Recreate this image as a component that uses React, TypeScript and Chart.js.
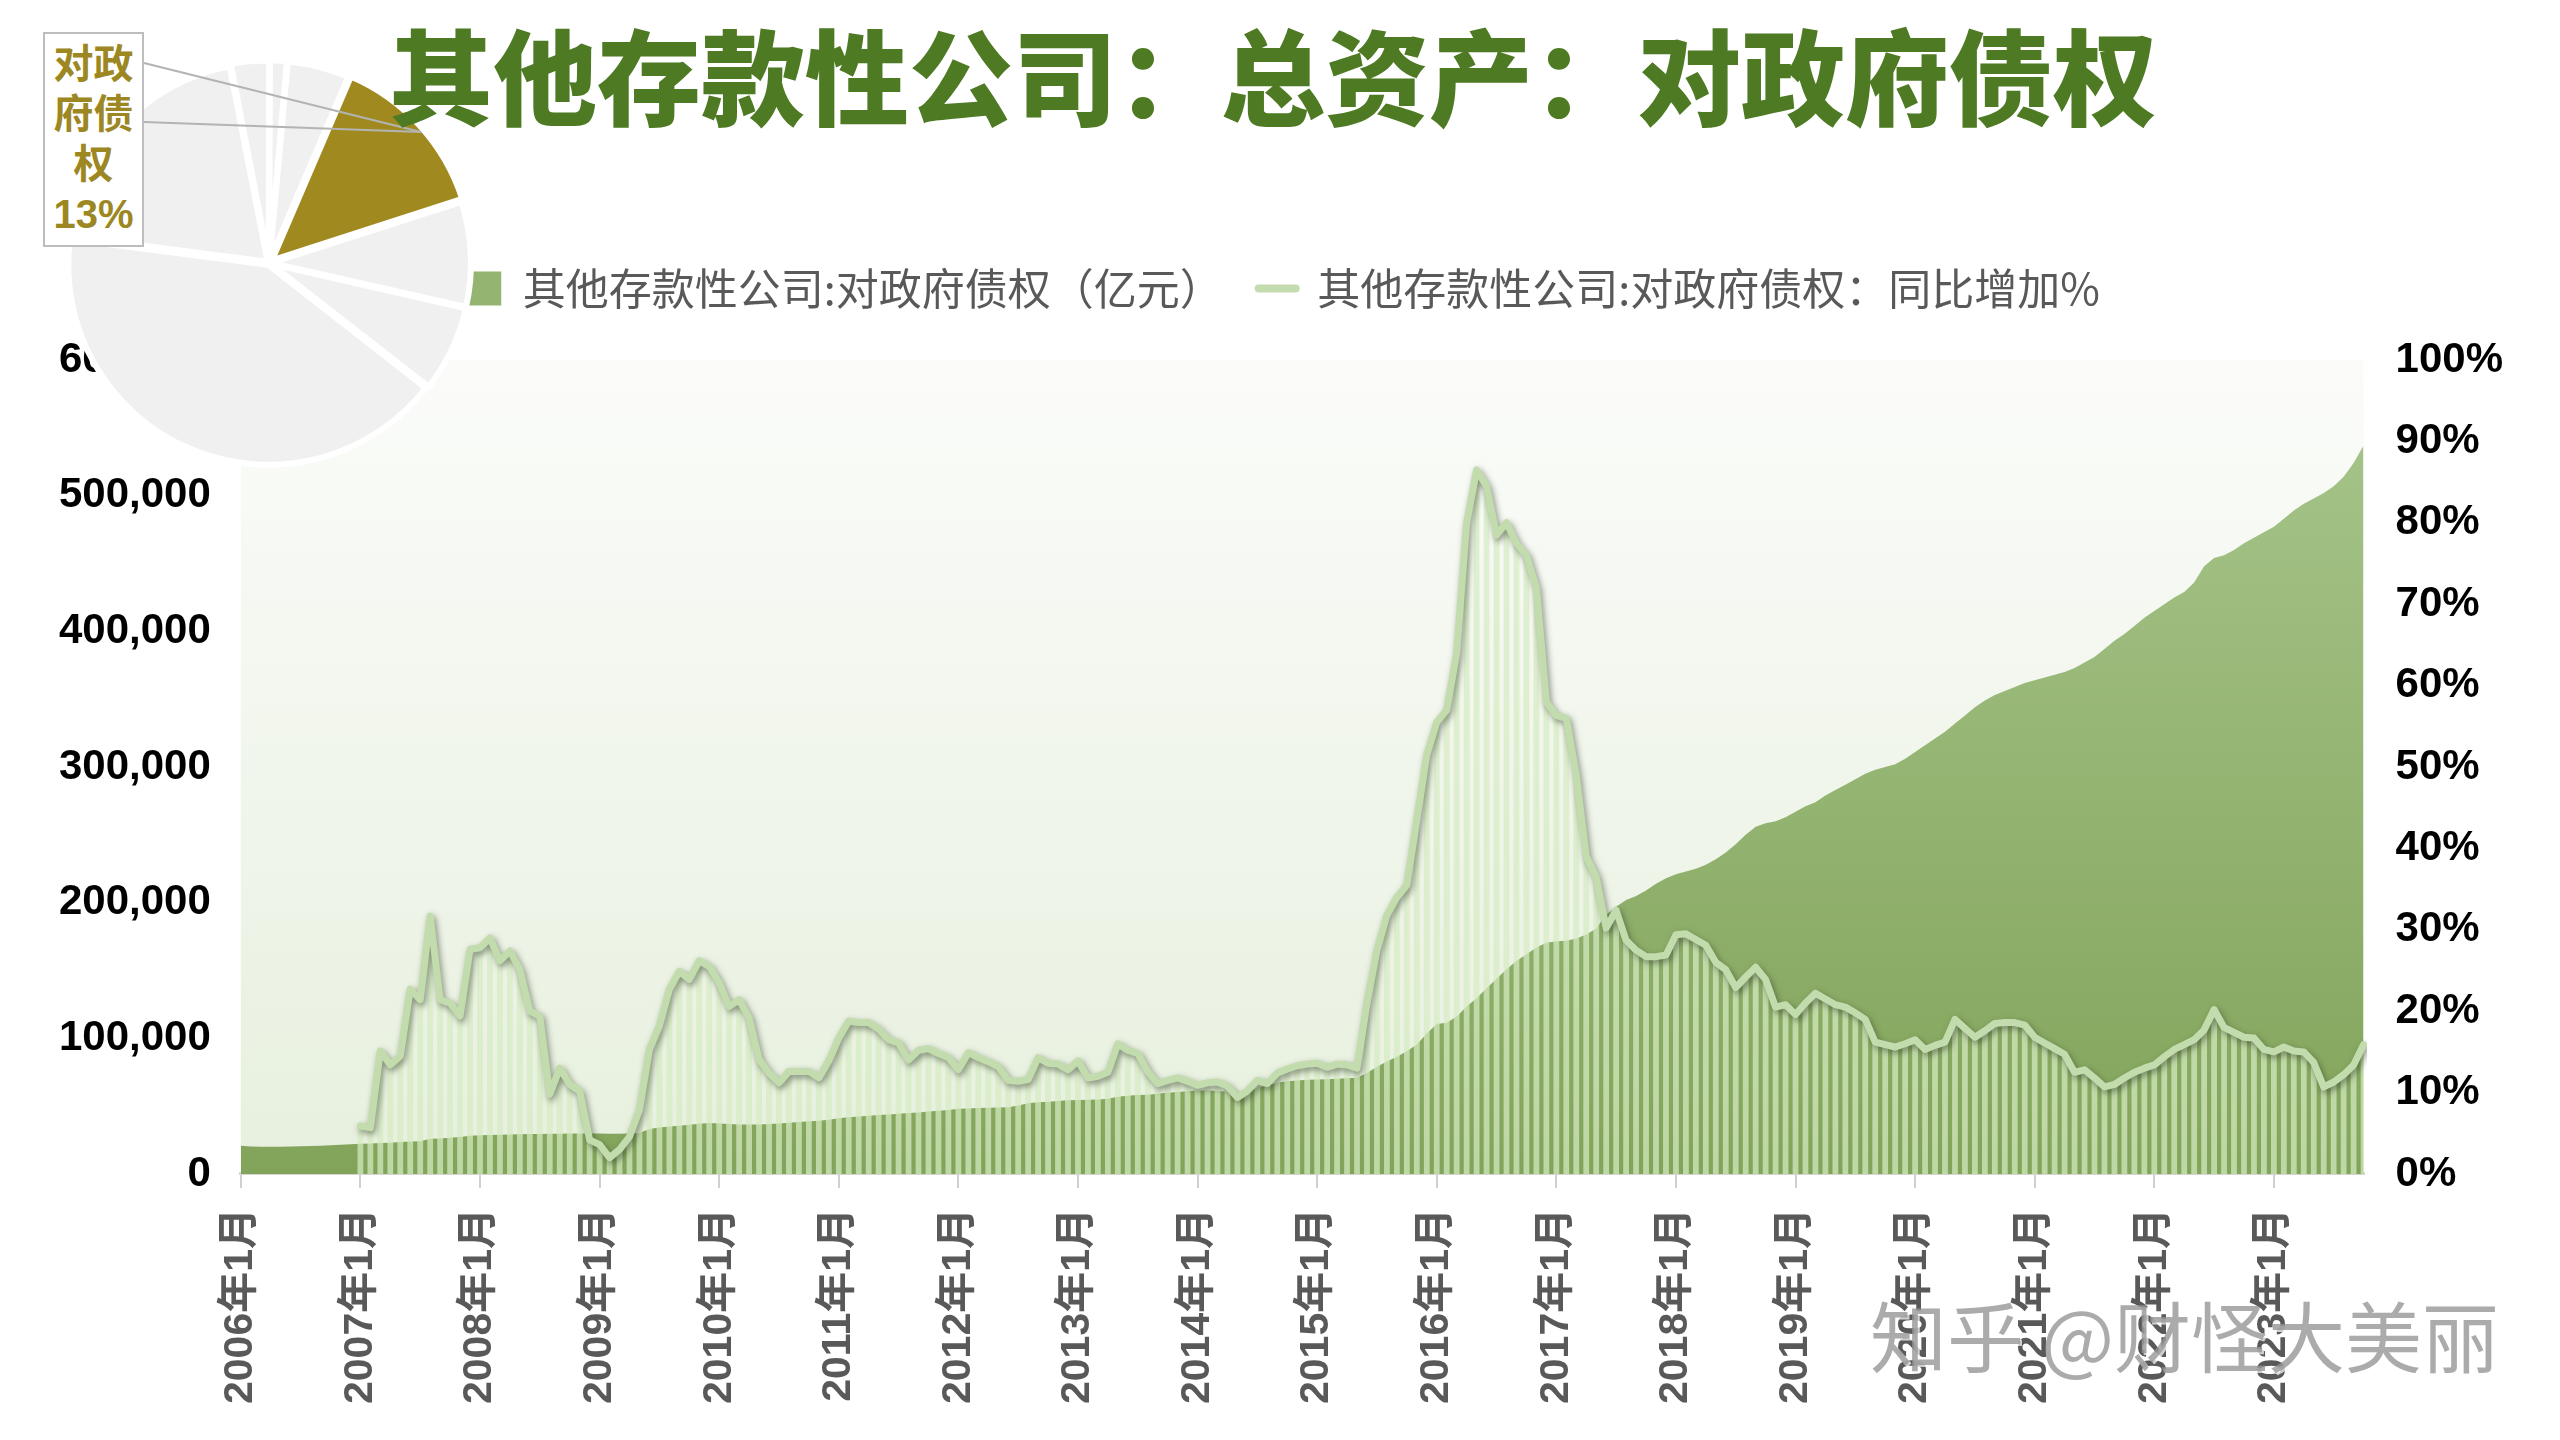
import React, { useEffect, useRef } from 'react';
import { Chart, registerables } from 'chart.js';

Chart.register(...registerables);

// ---------------- data ----------------
const START_YEAR = 2006;
const MONTH_COUNT = 214; // 2006年1月 … 2023年10月
const categories: string[] = [];
for (let i = 0; i < MONTH_COUNT; i++) {
  categories.push(`${START_YEAR + Math.floor(i / 12)}年${(i % 12) + 1}月`);
}

// 其他存款性公司:对政府债权（亿元）
const claimsOnGovernment: number[] = [
  20800, 20300, 20100, 20000, 20000, 20200, 20400, 20700, 20900, 21200, 21600, 22000,
  22300, 22500, 22800, 23100, 23500, 23900, 24200, 26000, 26200, 26800, 27300, 28200,
  28500, 28700, 28900, 29100, 29200, 29400, 29500, 29600, 29700, 29800, 29800, 29900,
  29800, 29700, 29700, 29900, 30200, 33200, 34300, 35000, 35600, 36300, 37000, 37600,
  37200, 36800, 36500, 36400, 36500, 36800, 37300, 37800, 38300, 38800, 39300, 40000,
  41100, 41800, 42400, 42900, 43400, 43900, 44400, 44900, 45400, 46000, 46600, 47200,
  48000, 48300, 48600, 48800, 49000, 49200, 50500, 52200, 52800, 53300, 53800, 54300,
  54600, 54800, 54900, 55500, 57000, 57600, 58200, 58500, 59200, 59900, 60500, 61000,
  61500, 61500, 61200, 60600, 59800, 60500, 63500, 65500, 67200, 68400, 69000, 69400,
  69600, 69900, 70200, 70500, 71000, 74500, 79000, 83000, 86500, 90500, 95500, 103500,
  110500, 111500, 116000, 123500, 129500, 137000, 144000, 151000, 157000, 162000, 167000, 170500,
  171500, 172000, 173500, 176500, 181000, 191000, 197000, 202000, 205000, 209000, 214000, 218000,
  221000, 223000, 225000, 228000, 232000, 237000, 243000, 250000, 256000, 258500, 260000, 263000,
  267000, 271000, 274000, 279000, 283000, 287000, 291000, 295000, 298000, 300000, 302000, 306000,
  311000, 316000, 321000, 326000, 332000, 338000, 344000, 349000, 353000, 356000, 359000, 362000,
  364000, 366000, 368000, 370000, 373000, 377000, 381000, 387000, 393000, 398000, 404000, 410000,
  415000, 420000, 425000, 429000, 436000, 448000, 454000, 456000, 460000, 465000, 469000, 473000,
  477000, 483000, 489000, 494000, 498000, 502000, 507000, 514000, 524000, 537000,
];

// 其他存款性公司:对政府债权：同比增加%
const yoyGrowth: (number | null)[] = [
  null, null, null, null, null, null, null, null, null, null, null, null,
  5.9, 5.7, 15.1, 13.4, 14.5, 22.7, 21.4, 31.7, 21.4, 21.0, 19.4, 27.6,
  27.8, 29.0, 26.2, 27.4, 25.1, 20.0, 19.4, 9.8, 13.0, 11.0, 10.2, 4.2,
  3.6, 2.0, 3.0, 4.6, 7.9, 15.3, 18.2, 22.7, 24.9, 23.9, 26.2, 25.5,
  23.5, 20.6, 21.4, 19.2, 14.1, 12.4, 11.2, 12.6, 12.6, 12.6, 11.8, 13.9,
  16.7, 18.8, 18.6, 18.6, 17.8, 16.5, 16.1, 14.0, 15.2, 15.4, 14.8, 14.3,
  12.8, 14.9, 14.3, 13.8, 13.2, 11.5, 11.4, 11.6, 14.3, 13.6, 13.5, 12.8,
  13.9, 11.8, 12.0, 12.5, 16.0, 15.2, 14.8, 12.6, 11.1, 11.5, 11.8, 11.4,
  10.9, 11.2, 11.3, 10.8, 9.4, 10.2, 11.5, 11.1, 12.4, 12.9, 13.3, 13.5,
  13.6, 13.1, 13.5, 13.4, 13.0, 21.0, 27.5, 31.8, 34.0, 35.5, 43.5, 51.5,
  55.5, 57.0, 64.0, 80.0, 86.5, 84.5, 78.5, 80.0, 77.5, 76.0, 72.0, 58.0,
  56.3, 56.0, 49.0, 39.0, 36.5, 30.2, 32.4, 28.7, 27.5, 26.7, 26.7, 26.9,
  29.4, 29.5, 28.8, 28.1, 26.0, 25.1, 22.9, 24.2, 25.4, 23.9, 20.5, 20.8,
  19.6, 21.0, 22.2, 21.5, 20.8, 20.5, 19.8, 19.0, 16.2, 15.9, 15.6, 16.0,
  16.5, 15.3, 15.8, 16.2, 19.0, 17.9, 16.8, 17.6, 18.5, 18.6, 18.6, 18.3,
  16.8, 16.1, 15.4, 14.7, 12.5, 12.8, 11.8, 10.7, 11.0, 11.8, 12.5, 13.0,
  13.4, 14.4, 15.3, 15.9, 16.5, 17.7, 20.2, 18.0, 17.4, 16.8, 16.7, 15.3,
  15.0, 15.6, 15.1, 15.0, 13.7, 10.7, 11.3, 12.2, 13.4, 15.9,
];

const seriesNames = ['其他存款性公司:对政府债权（亿元）', '其他存款性公司:对政府债权：同比增加%'];
const titleText = '其他存款性公司：总资产：对政府债权';

// inset pie: share of total assets (clockwise from the top-left small slices)
const pieLabels = ['其他1', '其他2', '其他3', '对政府债权', '其他4', '其他5', '其他6', '其他7'];
const pieShares = [3.1, 1.4, 5.0, 13.6, 8.5, 7.0, 41.5, 19.9];
const pieCalloutLines = ['对政', '府债', '权', '13%'];

// styles
const pieColors = ['#f0f0f0', '#f0f0f0', '#f0f0f0', '#a08a20', '#f0f0f0', '#f0f0f0', '#f0f0f0', '#f0f0f0'];
const pieOffsets = [8, 8, 8, 16, 8, 8, 8, 8];

const FONT = "'Liberation Sans', 'Noto Sans CJK SC', sans-serif";
const CJK = "'Noto Sans CJK SC', 'Liberation Sans', sans-serif";

// ---------------- plugins ----------------
const plotBackground = {
  id: 'plotBackground',
  beforeDraw(chart: any) {
    const a = chart.chartArea;
    if (!a) return;
    const ctx = chart.ctx;
    const g = ctx.createLinearGradient(0, a.top, 0, a.bottom);
    g.addColorStop(0, '#fbfcfa');
    g.addColorStop(1, '#e7f0de');
    ctx.save();
    ctx.fillStyle = g;
    ctx.fillRect(a.left, a.top, a.right - a.left, a.bottom - a.top);
    ctx.restore();
  },
};

const lineShadow = {
  id: 'lineShadow',
  beforeDatasetDraw(chart: any, args: any) {
    if (args.index !== 2) return;
    const ctx = chart.ctx;
    ctx.save();
    ctx.shadowColor = 'rgba(50,60,40,0.55)';
    ctx.shadowBlur = 6;
    ctx.shadowOffsetX = 2;
    ctx.shadowOffsetY = 3;
  },
  afterDatasetDraw(chart: any, args: any) {
    if (args.index !== 2) return;
    chart.ctx.restore();
  },
};

const legendSpacer = {
  id: 'legendSpacer',
  beforeLayout(chart: any) {
    const legend = chart.legend;
    if (!legend || legend._spacerPatched) return;
    const fit = legend.fit;
    legend.fit = function () {
      fit.call(this);
      this.height += 40;
    };
    legend._spacerPatched = true;
  },
};

// ---------------- components ----------------
function MainChart() {
  const ref = useRef<HTMLCanvasElement>(null);
  useEffect(() => {
    Chart.defaults.font.family = FONT;
    const chart = new Chart(ref.current as HTMLCanvasElement, {
      type: 'bar',
      data: {
        labels: categories,
        datasets: [
          {
            type: 'line',
            label: seriesNames[0],
            data: claimsOnGovernment,
            yAxisID: 'y',
            fill: 'origin',
            backgroundColor: (ctx: any) => {
              const c = ctx.chart;
              const a = c.chartArea;
              if (!a) return '#8fb06a';
              const g = c.ctx.createLinearGradient(0, a.top, 0, a.bottom);
              g.addColorStop(0, '#a8c68d');
              g.addColorStop(1, '#82a45a');
              return g;
            },
            borderColor: 'rgba(0,0,0,0)',
            borderWidth: 0,
            pointRadius: 0,
            tension: 0,
            order: 3,
          } as any,
          {
            type: 'bar',
            label: 'bars',
            data: yoyGrowth,
            yAxisID: 'y1',
            backgroundColor: 'rgba(214,235,194,0.72)',
            barPercentage: 0.58,
            categoryPercentage: 1,
            order: 2,
          } as any,
          {
            type: 'line',
            label: seriesNames[1],
            data: yoyGrowth,
            yAxisID: 'y1',
            borderColor: '#c3dcad',
            borderWidth: 7,
            borderJoinStyle: 'round',
            borderCapStyle: 'round',
            pointRadius: 0,
            fill: false,
            tension: 0,
            order: 1,
          } as any,
        ],
      },
      options: {
        responsive: true,
        maintainAspectRatio: false,
        animation: false,
        layout: { padding: { top: 231, left: 29, right: 25, bottom: 16 } },
        plugins: {
          tooltip: { enabled: false },
          title: { display: false },
          legend: {
            display: true,
            position: 'top',
            align: 'center',
            labels: {
              usePointStyle: true,
              pointStyleWidth: 37,
              boxHeight: 34,
              padding: 36,
              color: '#595959',
              font: { size: 43, family: CJK, weight: 'normal' },
              generateLabels: () => [
                {
                  text: seriesNames[0],
                  fillStyle: '#94b472',
                  strokeStyle: '#94b472',
                  lineWidth: 0,
                  pointStyle: 'rect',
                  hidden: false,
                  datasetIndex: 0,
                  fontColor: '#595959',
                },
                {
                  text: seriesNames[1],
                  fillStyle: '#c3dcad',
                  strokeStyle: '#c3dcad',
                  lineWidth: 8,
                  lineCap: 'round',
                  pointStyle: 'line',
                  hidden: false,
                  datasetIndex: 2,
                  fontColor: '#595959',
                },
              ] as any,
            },
          },
        },
        scales: {
          x: {
            type: 'category',
            offset: false,
            grid: {
              display: true,
              offset: false,
              drawOnChartArea: false,
              drawTicks: true,
              tickLength: 14,
              color: '#d0d0d0',
              lineWidth: 2,
            },
            border: { display: true, color: '#d5d5d5', width: 3 },
            ticks: {
              autoSkip: false,
              minRotation: 90,
              maxRotation: 90,
              padding: 20,
              color: '#595959',
              font: { size: 41, weight: 'bold', family: FONT },
              callback: (_v: any, i: number) => (i % 12 === 0 ? categories[i] : null),
            },
          },
          y: {
            position: 'left',
            min: 0,
            max: 600000,
            grid: { display: false, drawTicks: false },
            border: { display: false },
            ticks: {
              stepSize: 100000,
              padding: 30,
              color: '#000000',
              font: { size: 42, weight: 'bold', family: FONT },
              callback: (v: any) => Number(v).toLocaleString('en-US'),
            },
          },
          y1: {
            position: 'right',
            min: 0,
            max: 100,
            grid: { display: false, drawTicks: false },
            border: { display: false },
            ticks: {
              stepSize: 10,
              padding: 32,
              color: '#000000',
              font: { size: 42, weight: 'bold', family: FONT },
              callback: (v: any) => `${v}%`,
            },
          },
        },
      } as any,
      plugins: [plotBackground, lineShadow, legendSpacer],
    });
    return () => chart.destroy();
  }, []);
  return (
    <div style={{ position: 'absolute', left: 0, top: 0, width: 2560, height: 1440, zIndex: 1 }}>
      <canvas ref={ref} />
    </div>
  );
}

function PieInset() {
  const ref = useRef<HTMLCanvasElement>(null);
  useEffect(() => {
    const chart = new Chart(ref.current as HTMLCanvasElement, {
      type: 'pie',
      data: {
        labels: pieLabels,
        datasets: [
          {
            data: pieShares,
            backgroundColor: pieColors,
            borderColor: '#ffffff',
            borderWidth: 6,
            offset: pieOffsets,
          } as any,
        ],
      },
      options: {
        responsive: true,
        maintainAspectRatio: false,
        animation: false,
        rotation: -11,
        radius: 199,
        plugins: { legend: { display: false }, tooltip: { enabled: false } },
      } as any,
    });
    return () => chart.destroy();
  }, []);
  return (
    <div style={{ position: 'absolute', left: 49, top: 43, width: 440, height: 440, zIndex: 2 }}>
      <canvas ref={ref} />
    </div>
  );
}

export default function App() {
  return (
    <div
      style={{
        position: 'fixed',
        left: 0,
        top: 0,
        width: 2560,
        height: 1440,
        background: '#ffffff',
        overflow: 'hidden',
      }}
    >
      <MainChart />
      <PieInset />
      <svg
        width={500}
        height={300}
        style={{ position: 'absolute', left: 0, top: 0, zIndex: 3 }}
      >
        <line x1={144} y1={63} x2={421} y2={132} stroke="#b3b3b3" strokeWidth={2} />
        <line x1={144} y1={122} x2={421} y2={132} stroke="#b3b3b3" strokeWidth={2} />
      </svg>
      <div
        style={{
          position: 'absolute',
          left: 43,
          top: 32,
          width: 101,
          height: 215,
          boxSizing: 'border-box',
          border: '2px solid #bdbdbd',
          background: '#ffffff',
          color: '#9c8722',
          fontFamily: FONT,
          fontWeight: 700,
          fontSize: 40,
          lineHeight: '50px',
          textAlign: 'center',
          paddingTop: 5,
          zIndex: 4,
        }}
      >
        {pieCalloutLines.map((t) => (
          <div key={t}>{t}</div>
        ))}
      </div>
      <div
        style={{
          position: 'absolute',
          left: 0,
          top: 21,
          width: 2546,
          textAlign: 'center',
          fontFamily: CJK,
          fontWeight: 900,
          fontSize: 104,
          lineHeight: '104px',
          color: '#4d7a22',
          whiteSpace: 'nowrap',
          zIndex: 5,
        }}
      >
        {titleText}
      </div>
      <div
        style={{
          position: 'absolute',
          left: 1870,
          top: 1288,
          fontFamily: CJK,
          fontSize: 77,
          lineHeight: '92px',
          color: 'rgba(150,150,150,0.8)',
          textShadow: '2px 2px 0 rgba(255,255,255,0.7)',
          whiteSpace: 'nowrap',
          zIndex: 6,
        }}
      >
        知乎 @财怪大美丽
      </div>
    </div>
  );
}
